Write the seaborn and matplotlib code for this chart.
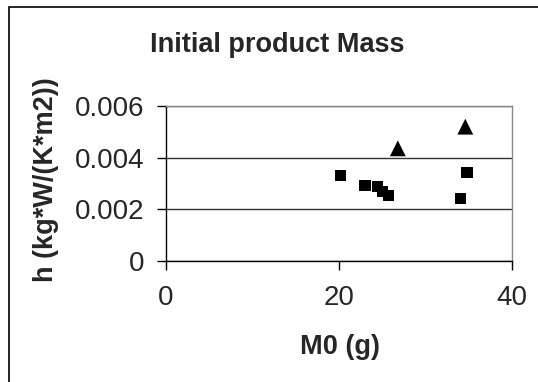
import matplotlib
matplotlib.use("Agg")
import matplotlib.pyplot as plt
import seaborn as sns
import pandas as pd
from matplotlib.patches import Rectangle

# Data
series = ["square"] * 7 + ["triangle"] * 2
m0 = [20.2, 23.0, 24.4, 25.0, 25.7, 34.8, 34.0, 26.8, 34.6]
h = [0.0033, 0.00291, 0.00288, 0.00268, 0.00254, 0.00342, 0.00243, 0.00436, 0.0052]
xticks = [0, 20, 40]
yticks = [0, 0.002, 0.004, 0.006]
ytick_labels = ["0", "0.002", "0.004", "0.006"]

df = pd.DataFrame({"M0": m0, "h": h, "series": series})

sns.set_style("white")
plt.rcParams["font.family"] = ["Liberation Sans", "DejaVu Sans"]

W, H = 538, 382
fig = plt.figure(figsize=(W / 100, H / 100), dpi=100)
ax = fig.add_axes([166 / W, 1 - 261 / H, (512 - 166) / W, (261 - 106) / H])

sq = df[df.series == "square"]
tr = df[df.series == "triangle"]
sns.scatterplot(data=sq, x="M0", y="h", marker="s", s=64, color="black",
                edgecolor="none", ax=ax, legend=False, zorder=3)
sns.scatterplot(data=tr, x="M0", y="h", marker="^", s=130, color="black",
                edgecolor="none", ax=ax, legend=False, zorder=3)

ax.set_xlim(0, 40)
ax.set_ylim(0, 0.006)
ax.set_xticks(xticks)
ax.set_xticklabels([str(t) for t in xticks])
ax.set_yticks(yticks)
ax.set_yticklabels(ytick_labels)
ax.grid(axis="y", color="#333333", linewidth=1)
ax.set_axisbelow(True)
ax.tick_params(axis="both", direction="out", length=6.5, width=1, color="black",
               labelsize=20, pad=9, bottom=True, left=True)
ax.tick_params(axis="x", pad=11)
for s in ["left", "bottom"]:
    ax.spines[s].set_color("black")
    ax.spines[s].set_linewidth(1)
for s in ["right", "top"]:
    ax.spines[s].set_color("#888888")
    ax.spines[s].set_linewidth(1)
ax.set_xlabel("")
ax.set_ylabel("")

fig.text(277 / W, 1 - 45 / H, "Initial product Mass", ha="center", va="center",
         fontsize=19.5, fontweight="bold")
fig.text(340 / W, 1 - 347 / H, "M0 (g)", ha="center", va="center",
         fontsize=19.5, fontweight="bold")
fig.text(46 / W, 1 - 180 / H, "h (kg*W/(K*m2))", ha="center", va="center",
         rotation=90, fontsize=19.5, fontweight="bold")

fig.patches.append(Rectangle((8.5 / W, -0.1), 1.2, (H - 6.5) / H + 0.1,
                             transform=fig.transFigure, fill=False,
                             edgecolor="black", linewidth=1.2))

fig.savefig("out.png", dpi=100)
